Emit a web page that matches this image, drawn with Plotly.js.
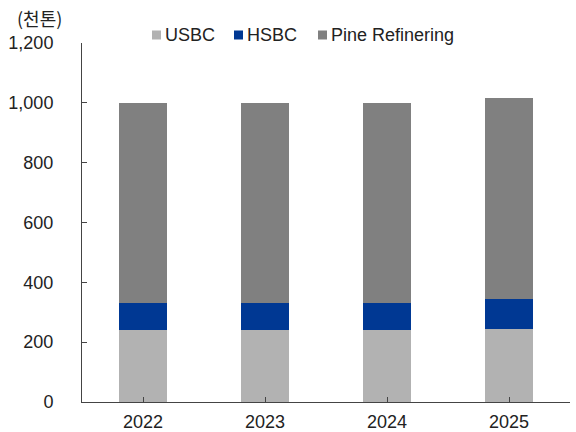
<!DOCTYPE html>
<html><head><meta charset="utf-8">
<script src="https://cdn.plot.ly/plotly-3.0.1.min.js"></script>
<style>html,body{margin:0;padding:0;background:#fff}#c{width:576px;height:432px}</style>
</head><body><div id="c"></div>
<script>
const years = ['2022','2023','2024','2025'];
const usbc = [240, 240, 240, 243];
const hsbc = [90, 90, 90, 102];
const pine = [670, 670, 670, 672];
const seriesNames = ['USBC', 'HSBC', 'Pine Refinering'];
const seriesColors = ['#b2b2b2', '#003893', '#808080'];
const unitLabel = '(천톤)';
const F = '"Liberation Sans", Arial, "Noto Sans CJK KR", sans-serif';
const vals = [usbc, hsbc, pine];
const traces = vals.map((v, i) => ({type:'bar', name:seriesNames[i], x:years, y:v, marker:{color:seriesColors[i]}, showlegend:false}));
// custom legend (tight marker/text spacing like the reference)
const legMarkX = [0.1434, 0.3115, 0.4836];
const legTextX = [0.168, 0.336, 0.508];
const legY = 1.0223;
const shapes = legMarkX.map((x, i) => ({type:'rect', xref:'paper', yref:'paper', xsizemode:'pixel', ysizemode:'pixel', xanchor:x, yanchor:legY, x0:0, x1:9, y0:-4.5, y1:4.5, fillcolor:seriesColors[i], line:{width:0}}));
const annotations = legTextX.map((x, i) => ({text:seriesNames[i], xref:'paper', yref:'paper', x:x, y:legY, xanchor:'left', yanchor:'middle', showarrow:false, borderpad:0, font:{size:18, family:F, color:'#222'}}));
annotations.push({text:unitLabel, xref:'paper', yref:'paper', x:-0.135, y:1.0696, xanchor:'left', yanchor:'middle', showarrow:false, borderpad:0, font:{size:18, family:'"Noto Sans CJK KR", sans-serif', color:'#222'}});
const layout = {
  width:576, height:432, barmode:'stack', bargap:0.6,
  margin:{l:82, r:6, t:43, b:30},
  paper_bgcolor:'#fff', plot_bgcolor:'#fff',
  font:{family:F, size:18, color:'#222'},
  showlegend:false,
  xaxis:{showline:true, linecolor:'#444', linewidth:1, ticks:'inside', tickson:'boundaries', ticklen:5, tickcolor:'#444', tickfont:{size:18}, showgrid:false, ticklabelstandoff:3},
  yaxis:{range:[0,1200], dtick:200, tickformat:',d', showline:true, linecolor:'#444', linewidth:1, ticks:'inside', ticklen:5, tickcolor:'#444', showgrid:false, zeroline:false, tickfont:{size:18}, ticklabelstandoff:24},
  shapes:shapes,
  annotations:annotations
};
Plotly.newPlot('c', traces, layout, {displayModeBar:false, staticPlot:true});
</script></body></html>
